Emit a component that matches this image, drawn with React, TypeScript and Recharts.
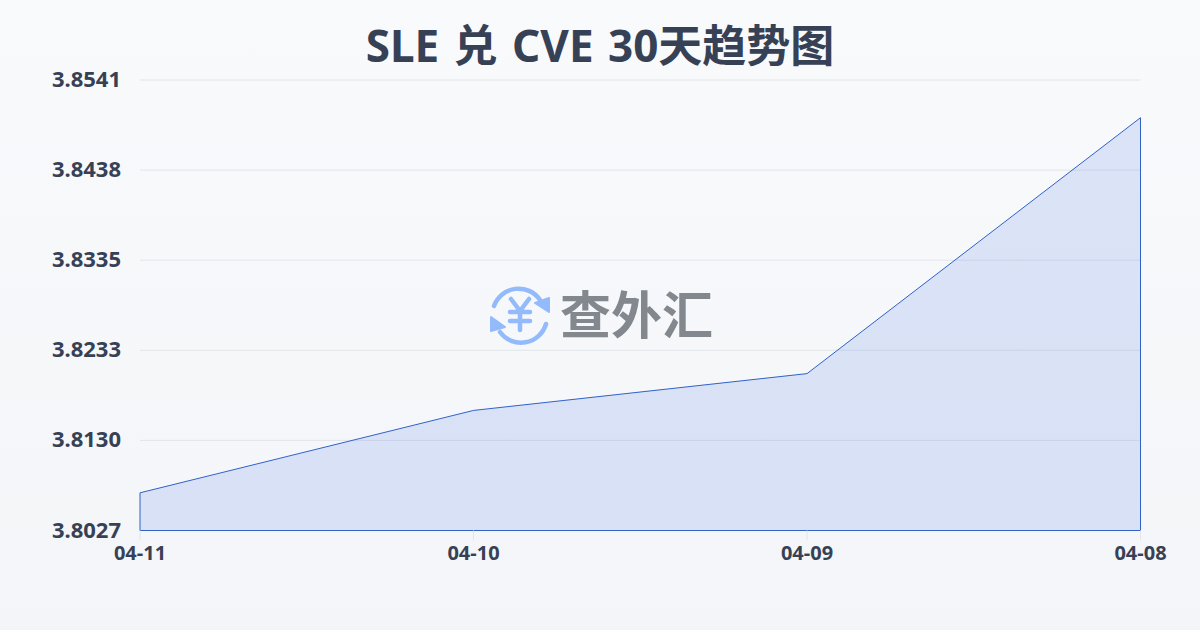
import { AreaChart, Area, XAxis, YAxis, CartesianGrid, ReferenceLine } from 'recharts'

const dates = ['04-11', '04-10', '04-09', '04-08']
const rates = [3.807, 3.8164, 3.8206, 3.8498]
const yTicks = [3.8027, 3.81298, 3.82326, 3.83354, 3.84382, 3.8541]
const yMin = 3.8027
const yMax = 3.8541

const chartData = dates.map((date, i) => ({ date, rate: rates[i] }))

const FONT = '"Noto Sans", "Noto Sans CJK SC", sans-serif'
const INK = '#374155'
const LINE = '#2f62c9'

function YTick({ x, y, payload }: any) {
  return (
    <text x={x - 3} y={y - 2} textAnchor="end" dominantBaseline="central" fontFamily={FONT} fontSize={22} fontWeight={700} fill={INK}>
      {payload.value.toFixed(4)}
    </text>
  )
}

function XTick({ x, y, payload }: any) {
  return (
    <text x={x} y={y + 10} textAnchor="middle" dominantBaseline="central" fontFamily={FONT} fontSize={20} fontWeight={700} fill={INK}>
      {payload.value}
    </text>
  )
}

// 水印:图标 + 文字
function Watermark() {
  return (
    <svg width={1200} height={630} style={{ position: 'absolute', left: 0, top: 0, pointerEvents: 'none' }}>
      <g fill="none" stroke="#93bbfb" strokeWidth={4.5} strokeLinecap="round" strokeLinejoin="round">
        <path d="M494 306 A26 26 0 0 1 540 300" />
        <path d="M546 324 A26 26 0 0 1 500 332" />
        <path d="M511 299 L520 311 L529 299 M520 311 L520 330 M510 312 L530 312 M510 321 L530 321" />
      </g>
      <path d="M549 298 L549 312 L535 303 Z" fill="#93bbfb" stroke="#93bbfb" strokeWidth={2} strokeLinejoin="round" />
      <path d="M491 317 L491 331 L505 327 Z" fill="#93bbfb" stroke="#93bbfb" strokeWidth={2} strokeLinejoin="round" />
      <text x={560} y={334} fontFamily={FONT} fontSize={51} fontWeight={700} fill="#83888f">
        查外汇
      </text>
    </svg>
  )
}

export default function App() {
  return (
    <div
      style={{
        position: 'absolute',
        left: 0,
        top: 0,
        width: 1200,
        height: 630,
        overflow: 'hidden',
        background: 'linear-gradient(180deg, #f8fafc 0%, #f3f5f8 100%)',
      }}
    >
      <div
        style={{
          position: 'absolute',
          left: 0,
          top: 15,
          width: 1200,
          textAlign: 'center',
          fontFamily: FONT,
          fontSize: 44,
          lineHeight: '60px',
          fontWeight: 700,
          wordSpacing: 3,
          color: INK,
        }}
      >
        SLE 兑 CVE 30天趋势图
      </div>
      <AreaChart width={1200} height={630} data={chartData} margin={{ top: 80, right: 59.5, bottom: 69.5, left: 0 }}>
        <CartesianGrid horizontal vertical={false} stroke="#e2e5ea" strokeWidth={1} />
        <XAxis
          dataKey="date"
          scale="point"
          padding={{ left: 0, right: 0 }}
          axisLine={false}
          tickLine={{ stroke: '#e2e5ea' }}
          tickSize={10}
          tick={<XTick />}
          interval={0}
        />
        <YAxis
          width={140}
          domain={[yMin, yMax]}
          ticks={yTicks}
          axisLine={false}
          tickLine={false}
          tickMargin={10}
          tick={<YTick />}
          interval={0}
        />
        <Area
          type="linear"
          dataKey="rate"
          baseValue={yMin}
          stroke={LINE}
          strokeWidth={1}
          fill="#2257e0"
          fillOpacity={0.13}
          dot={false}
          activeDot={false}
          isAnimationActive={false}
        />
        <ReferenceLine segment={[{ x: dates[0], y: yMin }, { x: dates[3], y: yMin }]} stroke={LINE} strokeWidth={1} />
        <ReferenceLine segment={[{ x: dates[0], y: yMin }, { x: dates[0], y: rates[0] }]} stroke={LINE} strokeWidth={1} />
        <ReferenceLine segment={[{ x: dates[3], y: yMin }, { x: dates[3], y: rates[3] }]} stroke={LINE} strokeWidth={1} />
      </AreaChart>
      <Watermark />
    </div>
  )
}
